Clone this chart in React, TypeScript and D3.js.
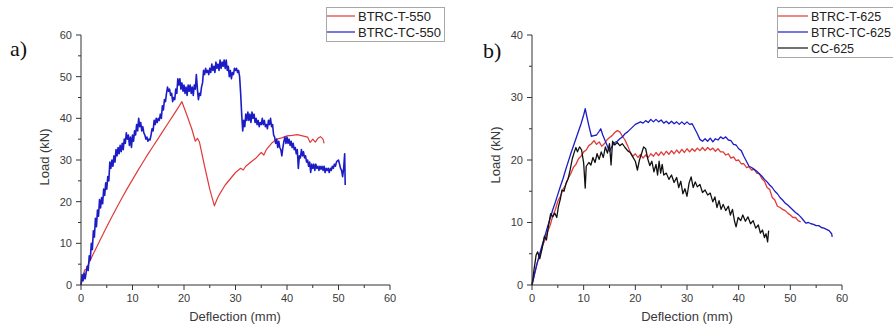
import React from 'react';
import * as d3 from 'd3';

type Pt = [number, number];

const xTickValues = [0, 10, 20, 30, 40, 50, 60];
const yTickValuesA = [0, 10, 20, 30, 40, 50, 60];
const yTickValuesB = [0, 10, 20, 30, 40];
const legendA = ['BTRC-T-550', 'BTRC-TC-550'];
const legendB = ['BTRC-T-625', 'BTRC-TC-625', 'CC-625'];

const btrcT550: Pt[] = [
  [0, 0], [0.7, 3.6], [1, 3.8], [2, 6.5], [3, 9], [4, 11.5], [5, 14], [6, 16.4], [7, 18.7], [8, 21], [9, 23.2],
  [10, 25.3], [11, 27.4], [12, 29.4], [13, 31.4], [14, 33.3], [15, 35.2], [16, 37.1], [17, 39], [18, 40.9],
  [19, 42.8], [19.6, 44], [20.5, 41], [21.5, 37.5], [22.2, 34.5], [22.6, 35.2], [23, 34.3], [24, 28.5], [25, 23],
  [25.9, 19], [26.5, 20.8], [27, 22], [28, 24], [29, 25.5], [30, 27], [31, 28], [31.5, 27.6], [32, 28.5], [33, 29.5],
  [34, 30.5], [35, 31.8], [35.5, 31.2], [36, 32.5], [37, 34], [38, 35], [39, 35.3], [40, 35.8], [41, 35.9],
  [42, 36.1], [43, 35.8], [44, 35.5], [44.5, 34.2], [45, 35], [45.5, 34.3], [46, 35.2], [46.5, 35.6], [47, 35], [47.2, 34],
];

const btrcTC550: Pt[] = [
  [0, 0], [0.2, 2.5], [0.4, 1], [0.6, 2.8], [0.8, 1.5], [1, 3], [1.2, 4.5], [1.4, 3.5], [1.6, 7], [1.8, 6], [2, 10],
  [2.2, 8.5], [2.4, 13], [2.6, 11.5], [2.8, 16], [3, 14], [3.2, 18], [3.4, 16.5], [3.6, 20.5], [3.8, 18.5], [4, 21],
  [4.2, 19.5], [4.4, 23], [4.6, 21.5], [4.8, 24.5], [5, 23], [5.2, 26], [5.4, 25], [5.6, 29.5], [5.8, 28], [6, 30],
  [6.2, 28.5], [6.4, 31], [6.6, 29.5], [6.8, 32.5], [7, 31], [7.2, 33], [7.4, 31.5], [7.6, 33.5], [7.8, 32], [8, 34],
  [8.2, 32.5], [8.4, 35], [8.6, 34], [8.8, 36.5], [9, 35], [9.2, 36], [9.4, 33.5], [9.6, 35.5], [9.8, 33], [10, 36],
  [10.2, 34.5], [10.4, 37], [10.6, 36], [10.8, 38.5], [11, 37], [11.2, 40], [11.4, 38], [11.6, 39], [11.8, 37],
  [12, 38], [12.2, 36.5], [12.4, 36], [12.6, 35], [12.8, 35.5], [13, 34.5], [13.2, 35], [13.4, 34.8], [13.6, 36],
  [13.8, 37.5], [14, 37], [14.2, 39.5], [14.4, 38.5], [14.6, 40], [14.8, 39], [15, 40], [15.2, 39.5], [15.4, 41],
  [15.6, 40], [15.8, 43], [16, 42], [16.2, 44.5], [16.4, 44], [16.6, 46], [16.8, 47.5], [17, 46.5], [17.2, 47],
  [17.4, 45.5], [17.6, 46], [17.8, 44], [18, 45], [18.2, 44.5], [18.4, 47], [18.6, 46], [18.8, 49.5], [19, 48],
  [19.2, 49.5], [19.4, 47], [19.6, 48.5], [19.8, 46.5], [20, 48], [20.2, 46], [20.4, 47.5], [20.6, 45.5], [20.8, 48],
  [21, 46.5], [21.2, 48], [21.4, 46], [21.6, 47.5], [21.8, 45.5], [22, 48], [22.2, 47], [22.4, 50.5], [22.6, 47],
  [22.8, 44.5], [23, 46], [23.2, 45.5], [23.4, 47.5], [23.6, 48.5], [23.8, 51.5], [24, 50.5], [24.2, 52], [24.4, 51],
  [24.6, 51.5], [24.8, 50.5], [25, 52], [25.2, 51], [25.4, 53], [25.6, 51.5], [25.8, 52.5], [26, 51], [26.2, 53.5],
  [26.4, 52], [26.6, 53], [26.8, 51.5], [27, 54], [27.2, 52], [27.4, 53.5], [27.6, 52.5], [27.8, 54], [28, 52],
  [28.2, 54], [28.4, 51.5], [28.6, 52.5], [28.8, 50], [29, 51.5], [29.2, 49.5], [29.4, 51], [29.6, 50.5], [29.8, 52],
  [30, 51.5], [30.2, 52], [30.4, 51], [30.6, 51.5], [30.8, 50], [31, 46], [31.2, 41], [31.4, 37], [31.6, 39.5],
  [31.8, 38], [32, 41], [32.2, 39.5], [32.4, 41.5], [32.6, 39.5], [32.8, 41], [33, 39], [33.2, 41.5], [33.4, 40],
  [33.6, 41], [33.8, 39], [34, 40], [34.2, 38.5], [34.4, 39.5], [34.6, 38], [34.8, 39], [35, 38.5], [35.2, 40],
  [35.4, 38.5], [35.6, 39.5], [35.8, 38], [36, 38.5], [36.2, 37.5], [36.4, 39.5], [36.6, 38.5], [36.8, 40], [37, 38],
  [37.2, 38.5], [37.4, 36], [37.6, 35.5], [37.8, 34], [38, 35], [38.2, 33], [38.4, 34.5], [38.6, 33], [38.8, 32.5],
  [39, 31], [39.2, 33], [39.4, 34.5], [39.6, 35.5], [39.8, 34], [40, 35.5], [40.2, 34], [40.4, 35], [40.6, 33.5],
  [40.8, 34.5], [41, 33], [41.2, 34], [41.4, 32.5], [41.6, 33], [41.8, 31.5], [42, 32.5], [42.2, 28], [42.4, 31],
  [42.6, 30.5], [42.8, 32.5], [43, 31], [43.2, 32], [43.4, 30.5], [43.6, 31], [43.8, 29.5], [44, 30], [44.2, 28.5],
  [44.4, 29.5], [44.6, 27], [44.8, 29], [45, 28], [45.2, 29], [45.4, 27.5], [45.6, 29], [45.8, 28], [46, 28.5],
  [46.2, 27.5], [46.4, 28.5], [46.6, 27.8], [46.8, 28.5], [47, 27.5], [47.2, 28.5], [47.4, 27], [47.6, 28],
  [47.8, 27.5], [48, 28], [48.2, 27], [48.4, 28], [48.6, 27.5], [48.8, 28.5], [49, 28], [49.2, 29], [49.4, 28.5],
  [49.6, 29.5], [49.8, 29.8], [50, 30], [50.2, 29], [50.4, 28], [50.6, 27.5], [50.8, 26], [51, 28], [51.2, 31.5], [51.3, 24],
];

const btrcT625: Pt[] = [
  [0, 0], [0.5, 1.8], [1, 3.5], [1.5, 4.8], [2, 6.2], [2.5, 7.2], [3, 8.5], [3.5, 9.5], [4, 11], [4.5, 12], [5, 13.4],
  [5.5, 14.2], [6, 15.3], [6.5, 16], [7, 17.1], [7.5, 17.8], [8, 18.8], [8.5, 19.3], [9, 20.2], [9.5, 20.6], [10, 21.3],
  [10.5, 21.6], [11, 22.3], [11.5, 22.6], [12, 23.1], [12.5, 22.5], [13, 22.9], [13.5, 22.2], [14, 22.6], [14.5, 23.2],
  [15, 23.6], [15.5, 23.9], [16, 24.4], [16.5, 24.7], [17, 24.5], [17.5, 23.8], [18, 23.2], [18.5, 22.3], [19, 21.3],
  [19.5, 20.6], [20, 21], [20.5, 20.4], [21, 20.9], [21.5, 20.3], [22, 20.8], [22.5, 20.4], [23, 21], [23.5, 20.6],
  [24, 21.2], [24.5, 20.7], [25, 21.3], [25.5, 20.8], [26, 21.4], [26.5, 20.9], [27, 21.5], [27.5, 21], [28, 21.6],
  [28.5, 21.1], [29, 21.7], [29.5, 21.2], [30, 21.8], [30.5, 21.3], [31, 21.8], [31.5, 21.4], [32, 21.9], [32.5, 21.5],
  [33, 22], [33.5, 21.5], [34, 22], [34.5, 21.6], [35, 21.9], [35.5, 21.4], [36, 21.8], [36.5, 21.3], [37, 21.3],
  [37.5, 20.8], [38, 21], [38.5, 20.3], [39, 20.5], [39.5, 19.9], [40, 20], [40.5, 19.4], [41, 19.4], [41.5, 18.8],
  [42, 18.9], [42.5, 18.4], [43, 18.5], [43.5, 17.9], [44, 17.8], [44.5, 17], [45, 16.6], [45.5, 15.6], [46, 15.3],
  [46.5, 14], [47, 13.6], [47.5, 12.6], [48, 12.4], [48.5, 12.1], [49, 11.9], [49.5, 11.5], [50, 11.2], [50.5, 10.8],
  [51, 10.8], [51.5, 10.3], [52, 10.1],
];

const btrcTC625: Pt[] = [
  [0, 0], [0.5, 1.8], [1, 3.5], [1.5, 5], [2, 6.5], [2.5, 7.8], [3, 9.3], [3.5, 10.6], [4, 12], [4.5, 13.2], [5, 14.5],
  [5.5, 15.8], [6, 17], [6.5, 18.4], [7, 19.7], [7.5, 21], [8, 22.2], [8.5, 23.4], [9, 24.6], [9.5, 25.8], [10, 27.2],
  [10.3, 28.2], [10.6, 27], [11, 25.5], [11.5, 23.8], [12, 23.9], [12.5, 24], [13, 24.6], [13.3, 25], [13.7, 24],
  [14, 23.4], [14.5, 22.4], [15, 21.4], [15.5, 22.2], [16, 22.8], [16.5, 23], [17, 23.4], [17.5, 23.7], [18, 24.2],
  [18.5, 24.5], [19, 24.9], [19.5, 25.3], [20, 25.7], [20.5, 25.9], [21, 26.1], [21.5, 25.9], [22, 26.3], [22.5, 26],
  [23, 26.5], [23.5, 26.1], [24, 26.5], [24.5, 26.1], [25, 26.4], [25.5, 25.9], [26, 26.2], [26.5, 25.8], [27, 26.2],
  [27.5, 25.8], [28, 26.1], [28.5, 25.7], [29, 26.1], [29.5, 25.7], [30, 26.1], [30.5, 25.7], [31, 25.8], [31.5, 25],
  [32, 24.2], [32.5, 23.3], [33, 23], [33.5, 23.4], [34, 23], [34.5, 23.5], [35, 22.9], [35.5, 23.4], [36, 23.2],
  [36.5, 23.7], [37, 23.4], [37.5, 23.7], [38, 23.2], [38.5, 23.1], [39, 22.5], [39.5, 22.4], [40, 21.8], [40.5, 21.5],
  [41, 20.6], [41.5, 19.8], [42, 19], [42.5, 18.8], [43, 18.5], [43.5, 18.2], [44, 17.8], [44.5, 17.4], [45, 16.9],
  [45.5, 16.5], [46, 16], [46.5, 15.6], [47, 15], [47.5, 14.6], [48, 14], [48.5, 13.6], [49, 13.1], [49.5, 12.8],
  [50, 12.4], [50.5, 12], [51, 11.6], [51.5, 11.3], [52, 10.9], [52.5, 10.4], [53, 9.9], [53.5, 10], [54, 9.8],
  [54.5, 9.7], [55, 9.5], [55.5, 9.5], [56, 9.2], [56.5, 9.1], [57, 8.9], [57.5, 8.7], [58, 8.2], [58.1, 7.7],
];

const cc625: Pt[] = [
  [0, 0], [0.4, 2.5], [0.8, 4.8], [1.1, 5.3], [1.5, 4.2], [2, 6], [2.4, 7.8], [2.8, 7.2], [3.2, 9.5], [3.6, 11.4],
  [4, 10.9], [4.4, 11.5], [4.8, 10.8], [5.1, 12.5], [5.5, 13.8], [5.8, 15.2], [6.2, 15], [6.6, 16.3], [7, 17],
  [7.4, 18.5], [7.8, 20.2], [8.2, 21.3], [8.5, 22], [8.8, 21.3], [9.2, 22.1], [9.6, 21.6], [10, 19.5], [10.3, 15.5],
  [10.5, 19], [11, 19.6], [11.4, 19.2], [11.8, 20.4], [12.2, 19.6], [12.6, 21], [13, 20.1], [13.4, 21.3], [13.8, 20.4],
  [14.2, 22.1], [14.6, 21.1], [15, 22.6], [15.3, 19.2], [15.6, 23], [16, 22.4], [16.5, 22.8], [17, 22.3], [17.5, 22.6],
  [18, 22], [18.5, 21.5], [19, 21.2], [19.5, 20.5], [20, 19.8], [20.4, 18.4], [20.8, 20], [21.2, 21], [21.6, 22.1],
  [22, 21.8], [22.4, 20.2], [22.8, 19.1], [23.2, 19.8], [23.6, 18.1], [24, 19.3], [24.3, 17.6], [24.6, 19.8],
  [24.9, 17.9], [25.2, 19.3], [25.5, 17.6], [26, 17.9], [26.5, 16.9], [27, 17.6], [27.5, 16.4], [28, 17.2],
  [28.4, 15.6], [28.8, 16.6], [29.2, 14.6], [29.6, 15.4], [30, 14.2], [30.4, 16.3], [30.8, 17.3], [31.2, 15.6],
  [31.6, 16.5], [32, 15.7], [32.5, 16.1], [33, 14.8], [33.5, 15.2], [34, 14.4], [34.5, 14.7], [35, 13.3], [35.4, 14.1],
  [35.8, 12.4], [36.2, 13.5], [36.6, 12.1], [37, 12.9], [37.5, 11.9], [38, 12.6], [38.4, 11.2], [38.8, 12.1],
  [39.2, 10.2], [39.5, 9.3], [39.9, 10.8], [40.4, 10.3], [40.8, 11.2], [41.3, 10.2], [41.8, 10.9], [42.3, 9.8],
  [42.8, 10.3], [43.3, 9.1], [43.8, 9.6], [44.2, 8.3], [44.6, 8.8], [45, 7.6], [45.3, 8.2], [45.6, 6.9], [45.8, 8.7],
];

const RED = '#e03a3a';
const BLUE = '#1c1cc6';
const BLACK = '#111111';
const AXIS = '#333333';
const TXT = '#3a3a3a';
const FONT = 'Liberation Sans, Arial, sans-serif';

type Series = { data: Pt[]; color: string; width: number };

function Panel(props: {
  xr: [number, number];
  yr: [number, number];
  yMax: number;
  yTicks: number[];
  series: Series[];
  yLabelX: number;
  yLabelY: number;
  xLabelX: number;
}) {
  const { xr, yr, yMax, yTicks, series, yLabelX, yLabelY, xLabelX } = props;
  const x = d3.scaleLinear().domain([0, 60]).range(xr);
  const y = d3.scaleLinear().domain([0, yMax]).range(yr);
  const line = d3.line<Pt>().x((d) => x(d[0])).y((d) => y(d[1]));
  const xMinor = xTickValues.slice(0, -1).map((v, i) => (v + xTickValues[i + 1]) / 2);
  const yMinor = yTicks.slice(0, -1).map((v, i) => (v + yTicks[i + 1]) / 2);
  const x0 = xr[0];
  const y0 = yr[0];
  return (
    <g>
      {series.map((s, i) => (
        <path key={i} d={line(s.data) || ''} fill="none" stroke={s.color} strokeWidth={s.width} strokeLinejoin="round" />
      ))}
      <line x1={x0} x2={x0} y1={y(yMax)} y2={y0} stroke={AXIS} strokeWidth={1} />
      <line x1={x0} x2={x(60)} y1={y0} y2={y0} stroke={AXIS} strokeWidth={1} />
      {yTicks.map((t) => (
        <g key={'y' + t}>
          <line x1={x0 - 5} x2={x0} y1={y(t)} y2={y(t)} stroke={AXIS} />
          <text x={x0 - 9} y={y(t)} dy="0.35em" textAnchor="end" fontSize={11} fill={TXT} fontFamily={FONT}>
            {t}
          </text>
        </g>
      ))}
      {yMinor.map((t) => (
        <line key={'ym' + t} x1={x0 - 3} x2={x0} y1={y(t)} y2={y(t)} stroke={AXIS} />
      ))}
      {xTickValues.map((t) => (
        <g key={'x' + t}>
          <line x1={x(t)} x2={x(t)} y1={y0} y2={y0 + 5} stroke={AXIS} />
          <text x={x(t)} y={y0 + 17} textAnchor="middle" fontSize={11} fill={TXT} fontFamily={FONT}>
            {t}
          </text>
        </g>
      ))}
      {xMinor.map((t) => (
        <line key={'xm' + t} x1={x(t)} x2={x(t)} y1={y0} y2={y0 + 3} stroke={AXIS} />
      ))}
      <text
        transform={`translate(${yLabelX},${yLabelY}) rotate(-90)`}
        textAnchor="middle"
        fontSize={13}
        fill={TXT}
        fontFamily={FONT}
      >
        Load (kN)
      </text>
      <text x={xLabelX} y={321} textAnchor="middle" fontSize={13} fill={TXT} fontFamily={FONT}>
        Deflection (mm)
      </text>
    </g>
  );
}

function Legend(props: { x: number; y: number; w: number; h: number; labels: string[]; colors: string[]; fontSize: number; lineLen: number }) {
  const { x, y, w, h, labels, colors, fontSize, lineLen } = props;
  return (
    <g>
      <rect x={x + 0.5} y={y + 0.5} width={w} height={h} fill="#fff" stroke="#a8a8a8" strokeWidth={1} />
      {labels.map((l, i) => (
        <g key={l}>
          <line x1={x + 1} x2={x + 1 + lineLen} y1={y + 9 + i * 16} y2={y + 9 + i * 16} stroke={colors[i]} strokeWidth={1.2} />
          <text x={x + lineLen + 4} y={y + 9 + i * 16} dy="0.36em" fontSize={fontSize} fill="#222" fontFamily={FONT}>
            {l}
          </text>
        </g>
      ))}
    </g>
  );
}

export default function App() {
  return (
    <svg width={893} height={326} style={{ position: 'absolute', left: 0, top: 0, background: '#fff' }}>
      <rect x={0} y={0} width={893} height={326} fill="#fff" />
      <Panel
        xr={[81, 390]}
        yr={[285, 35]}
        yMax={60}
        yTicks={yTickValuesA}
        series={[
          { data: btrcT550, color: RED, width: 1.2 },
          { data: btrcTC550, color: BLUE, width: 1.6 },
        ]}
        yLabelX={49}
        yLabelY={157}
        xLabelX={235}
      />
      <Panel
        xr={[532, 842]}
        yr={[285, 35]}
        yMax={40}
        yTicks={yTickValuesB}
        series={[
          { data: btrcT625, color: RED, width: 1.3 },
          { data: btrcTC625, color: BLUE, width: 1.3 },
          { data: cc625, color: BLACK, width: 1.3 },
        ]}
        yLabelX={500}
        yLabelY={155}
        xLabelX={687}
      />
      <Legend x={326} y={7} w={118} h={34} labels={legendA} colors={[RED, BLUE]} fontSize={13} lineLen={28} />
      <Legend x={777} y={7} w={130} h={50} labels={legendB} colors={[RED, BLUE, BLACK]} fontSize={12.5} lineLen={30} />
      <text x={10} y={56} fontSize={22} fontFamily="Liberation Serif, Times New Roman, serif" fill="#111">
        a)
      </text>
      <text x={483} y={58} fontSize={22} fontFamily="Liberation Serif, Times New Roman, serif" fill="#111">
        b)
      </text>
    </svg>
  );
}
